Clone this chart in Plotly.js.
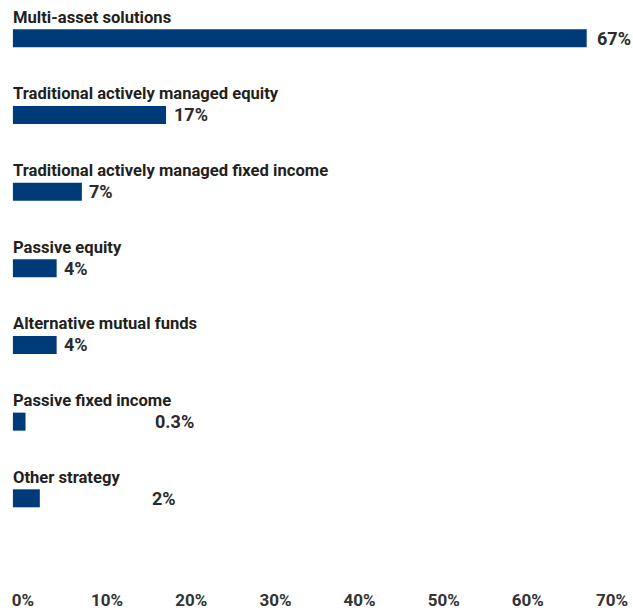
<!DOCTYPE html>
<html>
<head>
<meta charset="utf-8">
<script src="https://cdn.plot.ly/plotly-3.0.1.min.js"></script>
<style>html,body{margin:0;padding:0;background:#fff;}#chart{width:633px;height:610px;}</style>
</head>
<body>
<div id="chart"></div>
<script>
const categories = [
  "Multi-asset solutions",
  "Traditional actively managed equity",
  "Traditional actively managed fixed income",
  "Passive equity",
  "Alternative mutual funds",
  "Passive fixed income",
  "Other strategy"
];
const values = [67, 17, 7, 4, 4, 0.3, 2];
const valueLabels = ["67%", "17%", "7%", "4%", "4%", "0.3%", "2%"];
const tickValues = [0, 10, 20, 30, 40, 50, 60, 70];
const tickLabels = ["0%", "10%", "20%", "30%", "40%", "50%", "60%", "70%"];

// style / layout constants
const barColor = "#003b79";
const barBase = -1.2;
const labelShift = [8, 6, 5, 5, 5, 127, 110];
const catFont = {family: "Roboto, sans-serif", size: 16.6, color: "#231f20", weight: 700};
const valFont = {family: "Roboto, sans-serif", size: 18, color: "#2b2b2b", weight: 700};

const trace = {
  type: "bar",
  orientation: "h",
  y: categories,
  x: values.map(v => v - barBase),
  base: barBase,
  marker: {color: barColor},
  width: 0.235,
  hoverinfo: "skip"
};

const annotations = [];
categories.forEach((c, i) => {
  annotations.push({
    x: barBase, y: c, xref: "x", yref: "y",
    xanchor: "left", yanchor: "middle", yshift: 21, xshift: -2,
    text: c, showarrow: false, font: catFont
  });
  annotations.push({
    x: values[i], y: c, xref: "x", yref: "y",
    xanchor: "left", yanchor: "middle", xshift: labelShift[i],
    text: valueLabels[i], showarrow: false, font: valFont
  });
});

const layout = {
  width: 633, height: 610,
  margin: {l: 0, r: 0, t: 0, b: 22},
  paper_bgcolor: "#fff", plot_bgcolor: "#fff",
  showlegend: false,
  xaxis: {
    range: [-2.733, 72.5],
    tickvals: tickValues, ticktext: tickLabels,
    showgrid: false, zeroline: false, showline: false, ticks: "",
    tickfont: {family: "Roboto, sans-serif", size: 17, color: "#333", weight: 700},
    fixedrange: true
  },
  yaxis: {
    type: "category",
    range: [7.17, -0.5],
    showticklabels: false, showgrid: false, zeroline: false, showline: false, ticks: "",
    fixedrange: true
  },
  annotations: annotations
};

Plotly.newPlot("chart", [trace], layout, {displayModeBar: false, staticPlot: true});
</script>
</body>
</html>
